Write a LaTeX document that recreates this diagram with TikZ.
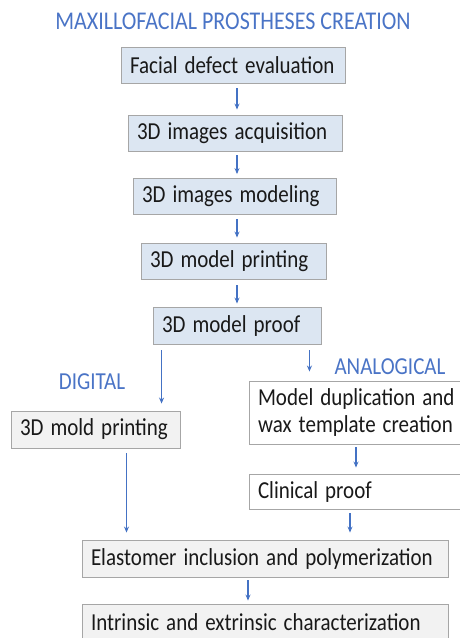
\documentclass[tikz,border=0pt]{standalone}
\usepackage{fontspec}
\usepackage{graphicx}
\setmainfont{Carlito}
\usetikzlibrary{arrows.meta}
\definecolor{ttlblue}{HTML}{4A74C6}
\definecolor{arrblue}{HTML}{4472C4}
\definecolor{bluefill}{HTML}{DCE6F2}
\definecolor{grayfill}{HTML}{F2F2F2}
\definecolor{bordergray}{HTML}{A6A6A6}
\newcommand{\tallt}[1]{\scalebox{1}[1.16]{#1}}
\tikzset{
  box/.style={draw=bordergray, line width=0.9pt, inner xsep=9pt, inner ysep=0pt, align=left,
    font=\fontsize{21}{27}\selectfont, text=black!90},
  bluebox/.style={box, fill=bluefill},
  graybox/.style={box, fill=grayfill},
  whitebox/.style={box, fill=white},
  arr/.style={draw=arrblue, line width=1.2pt, -{Stealth[length=6pt,width=5pt]}},
  lbl/.style={text=ttlblue, font=\fontsize{21}{24}\selectfont, inner sep=0pt}
}
\begin{document}
\begin{tikzpicture}[x=1pt,y=-1pt]
\useasboundingbox (0,0) rectangle (459,638);
\node[lbl, font=\fontsize{22}{24}\selectfont] (title) at (233,21) {\tallt{MAXILLOFACIAL PROSTHESES CREATION}};
\node[bluebox, text width=206pt, minimum height=36pt] (b1) at (233,65) {\tallt{Facial defect evaluation}};
\node[bluebox, text width=196pt, minimum height=36pt] (b2) at (235,133) {\tallt{3D images acquisition}};
\node[bluebox, text width=185pt, minimum height=36pt] (b3) at (234.5,196.5) {\tallt{3D images modeling}};
\node[bluebox, text width=167pt, minimum height=36pt] (b4) at (233.5,261) {\tallt{3D model printing}};
\node[bluebox, text width=150pt, minimum height=37pt] (b5) at (237,325.5) {\tallt{3D model proof}};
\node[graybox, text width=151pt, minimum height=37pt] (mold) at (95.5,429.5) {\tallt{3D mold printing}};
\node[whitebox, text width=260pt, minimum height=63pt] (dup) at (388,412.5) {\tallt{Model duplication and}\\\tallt{wax template creation}};
\node[whitebox, text width=260pt, minimum height=35pt] (clin) at (388,491.5) {\tallt{Clinical proof}};
\node[graybox, text width=348pt, minimum height=37pt] (elast) at (265,558.5) {\tallt{Elastomer inclusion and polymerization}};
\node[graybox, text width=348pt, minimum height=37pt] (intr) at (265,622.5) {\tallt{Intrinsic and extrinsic characterization}};
\node[lbl] (dig) at (92,382) {\tallt{DIGITAL}};
\node[lbl] (ana) at (390,367) {\tallt{ANALOGICAL}};
\draw[arr, shorten <=5pt, shorten >=5pt] ([xshift=4pt]b1.south) -- ([xshift=4pt]b1.south |- b2.north);
\draw[arr, shorten <=4pt, shorten >=4pt] ([xshift=2pt]b2.south) -- ([xshift=2pt]b2.south |- b3.north);
\draw[arr, shorten <=4pt, shorten >=5pt] ([xshift=2.5pt]b3.south) -- ([xshift=2.5pt]b3.south |- b4.north);
\draw[arr, shorten <=6pt, shorten >=3pt] ([xshift=3.5pt]b4.south) -- ([xshift=3.5pt]b4.south |- b5.north);
\draw[arr, shorten <=6pt, shorten >=7pt] ([xshift=9pt]b5.south west) -- ([xshift=9pt]b5.south west |- mold.north);
\draw[arr, shorten <=6pt, shorten >=9pt] ([xshift=-12pt]b5.south east) -- ([xshift=-12pt]b5.south east |- dup.north);
\draw[arr, shorten <=5pt, shorten >=7pt] ([xshift=31pt]mold.south) -- ([xshift=31pt]mold.south |- elast.north);
\draw[arr, shorten <=3pt, shorten >=6pt] ([xshift=-32pt]dup.south) -- ([xshift=-32pt]dup.south |- clin.north);
\draw[arr, shorten <=4pt, shorten >=7pt] ([xshift=-38pt]clin.south) -- ([xshift=-38pt]clin.south |- elast.north);
\draw[arr, shorten <=3pt, shorten >=3pt] ([xshift=-17pt]elast.south) -- ([xshift=-17pt]elast.south |- intr.north);
\end{tikzpicture}
\end{document}
